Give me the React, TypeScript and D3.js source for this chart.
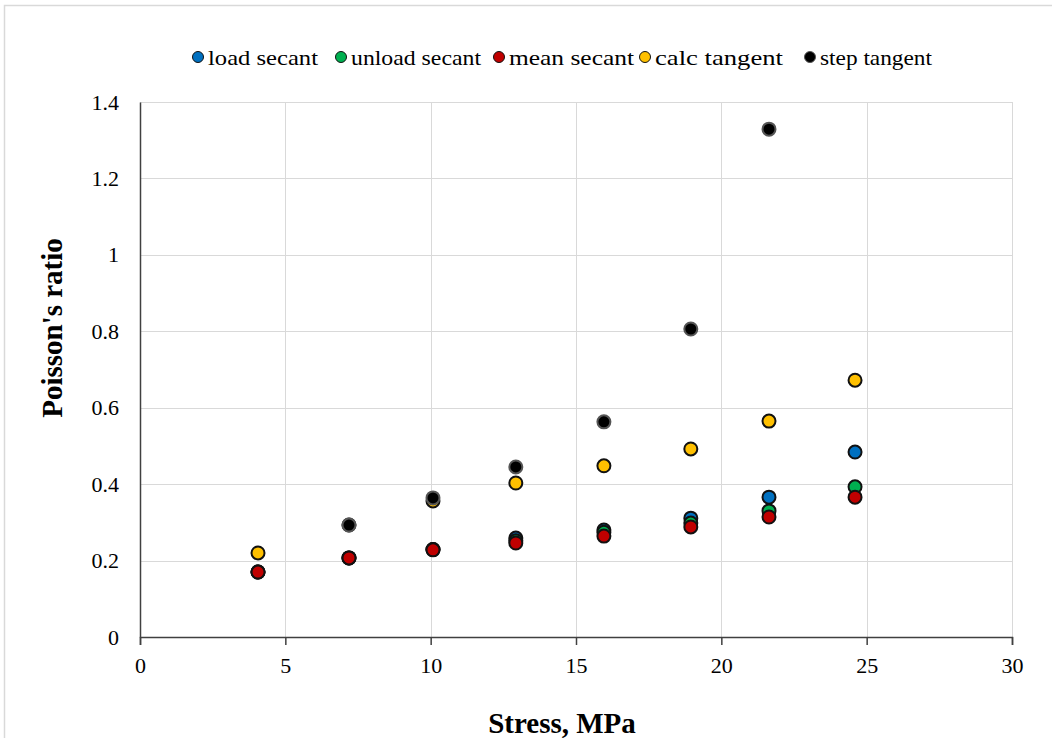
import React, { useEffect, useRef } from 'react';
import * as d3 from 'd3';

// stress (MPa) at each load step
const stress = [4.06, 7.19, 10.08, 12.93, 15.96, 18.95, 21.64, 24.6];

const loadSecant = [0.17, 0.207, 0.229, 0.259, 0.28, 0.311, 0.366, 0.484];
const unloadSecant = [0.17, 0.207, 0.229, 0.252, 0.274, 0.298, 0.33, 0.393];
const meanSecant = [0.17, 0.207, 0.228, 0.246, 0.264, 0.288, 0.314, 0.366];
const calcTangent = [0.22, 0.293, 0.356, 0.403, 0.448, 0.492, 0.565, 0.672];
const stepTangent = [null, 0.293, 0.364, 0.445, 0.563, 0.806, 1.329, null];

const seriesNames = ['load secant', 'unload secant', 'mean secant', 'calc tangent', 'step tangent'];
const seriesColors = ['#0070C0', '#00B050', '#C00000', '#FFC000', '#000000'];
const seriesValues = [loadSecant, unloadSecant, meanSecant, calcTangent, stepTangent];

const xTicks = [0, 5, 10, 15, 20, 25, 30];
const yTicks = [0, 0.2, 0.4, 0.6, 0.8, 1, 1.2, 1.4];

const W = 1052;
const H = 738;
const font = '"Liberation Serif", "Times New Roman", serif';

const App = () => {
  const svgRef = useRef(null);

  useEffect(() => {
    const svg = d3.select(svgRef.current);
    svg.selectAll('*').remove();

    const x = d3.scaleLinear().domain([0, 30]).range([140, 1012]);
    const y = d3.scaleLinear().domain([0, 1.4]).range([637, 102]);

    svg.append('rect')
      .attr('width', W).attr('height', H).attr('fill', '#fff');

    // outer chart frame
    svg.append('rect')
      .attr('x', 4.5).attr('y', 5.5)
      .attr('width', W + 20).attr('height', H + 20)
      .attr('fill', 'none').attr('stroke', '#d9d9d9').attr('stroke-width', 1.5);

    // gridlines
    svg.append('g').selectAll('line.h')
      .data(yTicks.slice(1))
      .enter().append('line')
      .attr('x1', x(0)).attr('x2', x(30))
      .attr('y1', (d) => Math.round(y(d)) + 0.5).attr('y2', (d) => Math.round(y(d)) + 0.5)
      .attr('stroke', '#d9d9d9');

    svg.append('g').selectAll('line.v')
      .data(xTicks.slice(1))
      .enter().append('line')
      .attr('x1', (d) => Math.round(x(d)) + 0.5).attr('x2', (d) => Math.round(x(d)) + 0.5)
      .attr('y1', y(0)).attr('y2', y(1.4))
      .attr('stroke', '#d9d9d9');

    // axes
    const xAxis = d3.axisBottom(x).tickValues(xTicks).tickSize(8).tickFormat(d3.format('d'));
    const gx = svg.append('g')
      .attr('transform', `translate(0, ${y(0)})`)
      .call(xAxis);
    gx.select('.domain').attr('stroke', '#404040').attr('stroke-width', 1.5);
    gx.selectAll('.tick line').attr('stroke', '#404040').attr('stroke-width', 1.5);
    gx.selectAll('.tick text')
      .attr('dy', 0).attr('y', 36)
      .style('font-family', font).style('font-size', '22px').attr('fill', '#000');

    const yAxis = d3.axisLeft(y).tickValues(yTicks).tickSize(0).tickPadding(21)
      .tickFormat((d) => String(+d.toFixed(1)));
    const gy = svg.append('g')
      .attr('transform', `translate(${x(0)}, 0)`)
      .call(yAxis);
    gy.select('.domain').attr('stroke', '#404040').attr('stroke-width', 1.5);
    gy.selectAll('.tick text')
      .style('font-family', font).style('font-size', '22px').attr('fill', '#000');

    // points
    seriesValues.forEach((vals, i) => {
      const pts = stress
        .map((s, j) => ({ s, v: vals[j] }))
        .filter((p) => p.v !== null);
      svg.append('g').selectAll('circle')
        .data(pts)
        .enter().append('circle')
        .attr('cx', (d) => x(d.s))
        .attr('cy', (d) => y(d.v))
        .attr('r', 6.5)
        .attr('fill', seriesColors[i])
        .attr('stroke', i === 4 ? '#555' : '#111')
        .attr('stroke-width', 2);
    });

    // axis titles
    svg.append('text')
      .attr('x', 562).attr('y', 733)
      .attr('text-anchor', 'middle')
      .style('font-family', font).style('font-size', '29px').style('font-weight', 'bold')
      .text('Stress, MPa');

    svg.append('text')
      .attr('transform', `translate(62, 328) rotate(-90)`)
      .attr('text-anchor', 'middle')
      .style('font-family', font).style('font-size', '29px').style('font-weight', 'bold')
      .text("Poisson's ratio");

    // legend
    const legendX = [198, 341, 499, 645, 810];
    const legendW = [110, 130, 125, 128, 112];
    const lg = svg.append('g');
    seriesNames.forEach((name, i) => {
      lg.append('circle')
        .attr('cx', legendX[i]).attr('cy', 57).attr('r', 5.5)
        .attr('fill', seriesColors[i])
        .attr('stroke', i === 4 ? '#555' : '#111').attr('stroke-width', 1);
      lg.append('text')
        .attr('x', legendX[i] + 10).attr('y', 65)
        .attr('textLength', legendW[i]).attr('lengthAdjust', 'spacingAndGlyphs')
        .style('font-family', font).style('font-size', '22px')
        .text(name);
    });
  }, []);

  return (
    <svg
      ref={svgRef}
      width={W}
      height={H}
      style={{ position: 'absolute', left: 0, top: 0 }}
    />
  );
};

export default App;
